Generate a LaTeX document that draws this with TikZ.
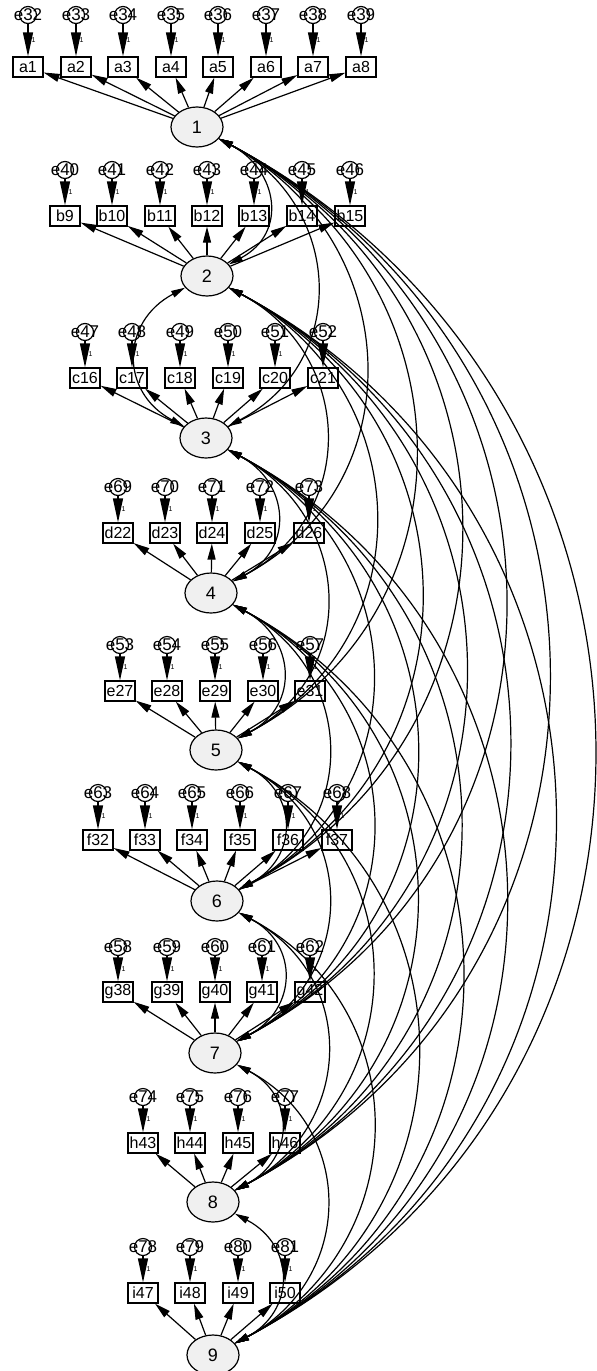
\documentclass[tikz,border=0pt]{standalone}
\usepackage{fontspec}
\setmainfont{Liberation Sans}
\usetikzlibrary{arrows.meta,shapes.geometric,calc}
\tikzset{
 fac/.style={ellipse, draw, line width=1.2pt, fill=gray!12, minimum width=52pt, minimum height=40pt, inner sep=0pt, font=\fontsize{18}{18}\selectfont},
 obs/.style={rectangle, draw, line width=1.2pt, fill=white, minimum width=30pt, minimum height=20pt, inner sep=1pt, font=\fontsize{16}{16}\selectfont},
 err/.style={circle, draw, line width=1.2pt, fill=white, minimum size=17pt, inner sep=0pt},
 errlab/.style={font=\fontsize{17}{17}\selectfont, inner sep=0pt},
 load/.style={line width=1.2pt, -{Triangle[length=16pt,width=8pt]}},
 erra/.style={line width=1.2pt, -{Triangle[length=24pt,width=10pt]}},
 cov/.style={line width=1.2pt, {Triangle[length=14pt,width=7pt]}-{Triangle[length=14pt,width=7pt]}},
 one/.style={font=\fontsize{7}{7}\selectfont, inner sep=0pt}
}
\newcommand{\grp}[4]{% factor, yerr, ybox, list
 \foreach \x/\e/\b in {#4} {
  \node[err, label={[errlab]center:\e}] (E-\e) at (\x,#2) {};
  \node[obs] (B-\b) at (\x,#3) {\b};
  \draw[erra] (E-\e) -- node[one, right=3pt] {1} (B-\b);
  \draw[load] (F#1) -- (B-\b);
 }}
\def\fy{{127,276,438,593,750,901,1053,1202,1355}}
\begin{document}
\begin{tikzpicture}[x=1pt,y=-1pt]
\useasboundingbox (0,0) rectangle (597,1371);
\fill[white] (0,0) rectangle (597,1371);
\node[fac] (F1) at (197,127) {1};
\node[fac] (F2) at (207,276) {2};
\node[fac] (F3) at (206,438) {3};
\node[fac] (F4) at (211,593) {4};
\node[fac] (F5) at (216,750) {5};
\node[fac] (F6) at (217,901) {6};
\node[fac] (F7) at (215,1053) {7};
\node[fac] (F8) at (213,1202) {8};
\node[fac] (F9) at (213,1355) {9};
\grp{1}{15}{67}{28/e32/a1, 76/e33/a2, 123/e34/a3, 171/e35/a4, 218/e36/a5, 266/e37/a6, 313/e38/a7, 361/e39/a8}
\grp{2}{170}{216}{65/e40/b9, 112/e41/b10, 160/e42/b11, 207/e43/b12, 254/e44/b13, 302/e45/b14, 350/e46/b15}
\grp{3}{332}{378}{85/e47/c16, 132/e48/c17, 180/e49/c18, 228/e50/c19, 275/e51/c20, 323/e52/c21}
\grp{4}{487}{533}{118/e69/d22, 165/e70/d23, 212/e71/d24, 260/e72/d25, 309/e73/d26}
\grp{5}{645}{691}{120/e53/e27, 167/e54/e28, 215/e55/e29, 263/e56/e30, 310/e57/e31}
\grp{6}{793}{840}{98/e63/f32, 145/e64/f33, 192/e65/f34, 240/e66/f35, 288/e67/f36, 337/e68/f37}
\grp{7}{947}{992}{118/e58/g38, 167/e59/g39, 215/e60/g40, 262/e61/g41, 310/e62/g42}
\grp{8}{1097}{1143}{143/e74/h43, 190/e75/h44, 238/e76/h45, 285/e77/h46}
\grp{9}{1247}{1293}{143/e78/i47, 190/e79/i48, 238/e80/i49, 285/e81/i50}
\foreach \i in {1,...,8} {
 \pgfmathtruncatemacro\s{\i+1}
 \foreach \j in {\s,...,9} {
  \pgfmathsetmacro\L{0.45*(\fy[\j-1]-\fy[\i-1])}
  \pgfmathtruncatemacro\code{\i*10+\j}
  \ifnum\code=23
   \draw[cov] (F\i.-152) .. controls ($(F\i.-152)+(152:\L)$) and ($(F\j.152)+(208:\L)$) .. (F\j.152);
  \else
   \draw[cov] (F\i.-28) .. controls ($(F\i.-28)+(28:\L)$) and ($(F\j.28)+(-28:\L)$) .. (F\j.28);
  \fi
 }
}
\end{tikzpicture}
\end{document}
